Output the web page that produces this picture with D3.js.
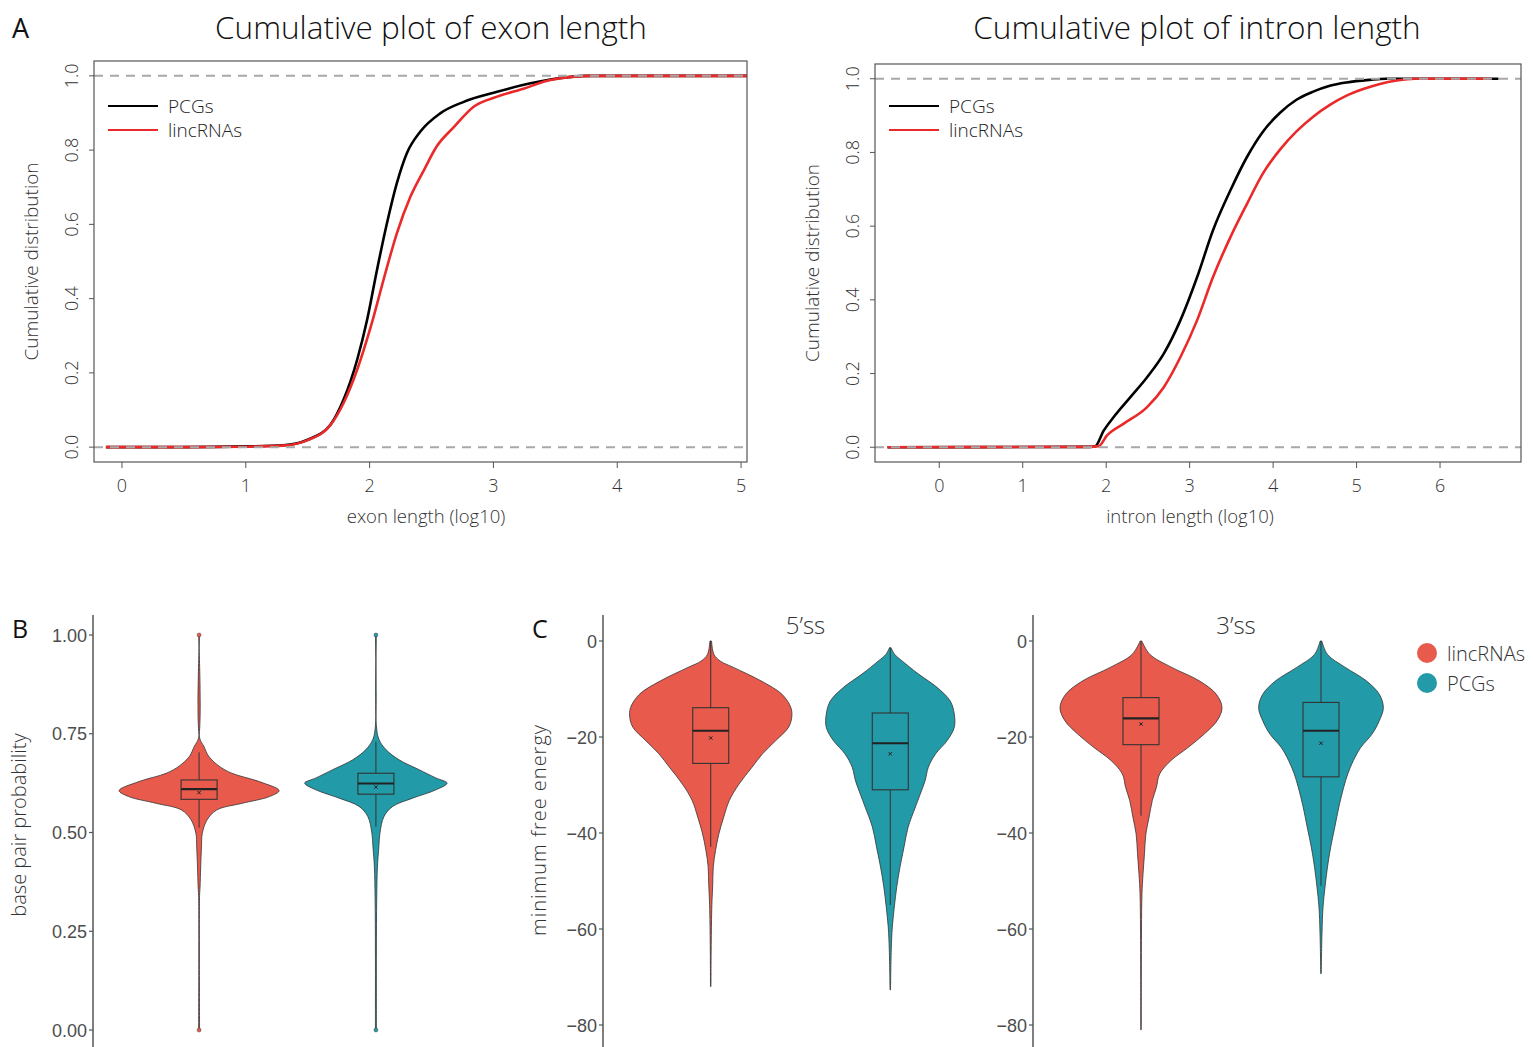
<!DOCTYPE html>
<html>
<head>
<meta charset="utf-8">
<script src="https://cdn.jsdelivr.net/npm/d3@7"></script>
<style>
  body { margin: 0; background: #fff; }
  text { font-family: "Open Sans", sans-serif; }
</style>
</head>
<body>
<svg id="fig" width="1533" height="1047"></svg>
<script>
// ---------------- Data ----------------
// cumulative distributions, [log10 length, cumulative fraction]
const exonPCGs = [[-0.13,0],[0.5,0],[1.0,0.002],[1.3,0.005],[1.5,0.02],[1.685,0.061],[1.79,0.128],
  [1.9,0.236],[1.98,0.343],[2.06,0.478],[2.14,0.603],[2.22,0.711],[2.3,0.791],[2.41,0.85],
  [2.57,0.899],[2.76,0.93],[3.03,0.957],[3.3,0.98],[3.46,0.99],[3.75,1.0],[5.05,1.0]];
const exonLincRNAs = [[-0.13,0],[0.5,0],[1.0,0.001],[1.3,0.004],[1.5,0.019],[1.68,0.058],
  [1.79,0.119],[1.9,0.209],[2.01,0.325],[2.12,0.46],[2.22,0.576],[2.33,0.675],[2.44,0.747],
  [2.54,0.809],[2.68,0.862],[2.84,0.917],[3.03,0.944],[3.25,0.966],[3.46,0.989],[3.8,1.0],[5.05,1.0]];
const intronPCGs = [[-0.62,0],[1.8,0.001],[1.87,0.003],[1.97,0.045],[2.09,0.082],[2.29,0.136],
  [2.49,0.19],[2.69,0.254],[2.89,0.345],[3.09,0.462],[3.28,0.589],[3.49,0.698],[3.69,0.789],
  [3.88,0.857],[4.08,0.907],[4.28,0.943],[4.48,0.965],[4.68,0.981],[4.88,0.99],[5.16,0.997],
  [5.35,1.0],[6.7,1.0]];
const intronLincRNAs = [[-0.62,0],[1.8,0.001],[1.91,0.003],[2.01,0.032],[2.21,0.064],[2.49,0.109],
  [2.69,0.163],[2.89,0.245],[3.09,0.345],[3.28,0.462],[3.49,0.571],[3.69,0.662],[3.88,0.744],
  [4.08,0.807],[4.28,0.857],[4.48,0.897],[4.68,0.929],[4.88,0.954],[5.08,0.972],[5.28,0.986],
  [5.48,0.995],[5.7,1.0],[6.6,1.0]];

const exonTicks   = [0, 1, 2, 3, 4, 5];
const intronTicks = [0, 1, 2, 3, 4, 5, 6];
const cdfTicks    = [0, 0.2, 0.4, 0.6, 0.8, 1.0];

const groups = ['lincRNAs', 'PCGs'];

// violin densities, [value, relative density]
const bpLinc = [[1.0,0.006],[0.74,0.006],[0.718,0.06],[0.693,0.12],[0.668,0.25],[0.65,0.41],
  [0.629,0.75],[0.606,1.0],[0.591,0.88],[0.574,0.54],[0.557,0.22],[0.532,0.1],[0.498,0.04],
  [0.464,0.03],[0.413,0.02],[0.362,0.012],[0.34,0.006],[0.0,0.006]];
const bpPCG = [[1.0,0.006],[0.77,0.006],[0.735,0.04],[0.71,0.125],[0.684,0.29],[0.659,0.54],
  [0.638,0.75],[0.625,0.89],[0.608,0.75],[0.587,0.46],[0.566,0.21],[0.54,0.1],[0.498,0.05],
  [0.464,0.037],[0.413,0.019],[0.33,0.01],[0.2,0.006],[0.05,0.006],[0.0,0.006]];

const ss5Linc = [[0,0.01],[-2.8,0.04],[-4.2,0.12],[-5.5,0.28],[-8.3,0.62],[-11.1,0.88],[-13.9,0.99],
  [-15.9,1.0],[-18,0.96],[-20.8,0.8],[-23.5,0.64],[-26.3,0.51],[-29.8,0.35],[-33.2,0.23],
  [-36.7,0.16],[-40.2,0.1],[-43.6,0.06],[-47,0.032],[-50.6,0.025],[-54,0.016],[-58,0.01],
  [-65,0.005],[-72,0.003]];
const ss5PCG = [[-1.4,0.01],[-2.8,0.055],[-4.2,0.15],[-6.9,0.35],[-9.7,0.58],[-12.5,0.74],
  [-15.2,0.79],[-18,0.79],[-20.8,0.7],[-23.5,0.56],[-26.3,0.47],[-29.1,0.43],[-31.9,0.37],
  [-34.6,0.31],[-38.8,0.22],[-42.9,0.17],[-47.1,0.12],[-51.2,0.08],[-55.4,0.05],[-59.6,0.025],
  [-64.4,0.012],[-72.7,0.003]];
const ss3Linc = [[0,0.01],[-2.8,0.11],[-5.5,0.38],[-8.3,0.72],[-11.1,0.93],[-13.9,1.0],[-16.6,0.94],
  [-19.4,0.78],[-22.2,0.58],[-24.9,0.37],[-27.7,0.23],[-30.5,0.19],[-33.2,0.14],[-36.7,0.1],
  [-40.2,0.06],[-44.3,0.043],[-48.5,0.025],[-52.6,0.012],[-60,0.006],[-70,0.004],[-81,0.003]];
const ss3PCG = [[0,0.01],[-2.8,0.08],[-5.5,0.3],[-8.3,0.56],[-11.1,0.72],[-13.9,0.77],[-16.6,0.72],
  [-19.4,0.63],[-22.2,0.49],[-24.9,0.4],[-27.7,0.33],[-30.5,0.28],[-34.6,0.22],[-38.8,0.17],
  [-42.9,0.12],[-47.1,0.08],[-51.2,0.05],[-55.4,0.025],[-61,0.012],[-69.3,0.003]];

// box stats: [whisker low, q1, median, q3, whisker high, mean]
const bpBox  = { lincRNAs: [0.512, 0.584, 0.61, 0.633, 0.703, 0.601],
                 PCGs:     [0.515, 0.597, 0.624, 0.65, 0.73, 0.615] };
const ss5Box = { lincRNAs: [-42.9, -25.5, -18.7, -13.9, 0, -20.2],
                 PCGs:     [-55, -31, -21.3, -15, -1.4, -23.5] };
const ss3Box = { lincRNAs: [-36.4, -21.6, -16.1, -11.8, 0, -17.3],
                 PCGs:     [-51, -28.3, -18.7, -12.8, 0, -21.3] };
const bpOutliers = [1.0, 0.0];

const bpTicks  = [0, 0.25, 0.5, 0.75, 1.0];
const mfeTicks = [-80, -60, -40, -20, 0];

// ---------------- Styles ----------------
const lineColor = { PCGs: '#000000', lincRNAs: '#ea2a2a' };
const fillColor = { lincRNAs: '#e85a4c', PCGs: '#229aa8' };
const axisGrey = '#4d4d4d';

const svg = d3.select('#fig');
svg.append('rect').attr('width', 1533).attr('height', 1047).attr('fill', '#fff');

// ---------------- Panel A: cumulative plots ----------------
function cdfPanel(o) {
  const x = d3.scaleLinear().domain(o.xDomain).range([o.left, o.right]);
  const y = d3.scaleLinear().domain([-0.04, 1.04]).range([462, o.top]);
  const g = svg.append('g');

  const clipId = 'clip' + o.left;
  g.append('clipPath').attr('id', clipId).append('rect')
    .attr('x', o.left).attr('y', o.top).attr('width', o.right - o.left).attr('height', 462 - o.top);

  const line = d3.line().x(d => x(d[0])).y(d => y(d[1])).curve(d3.curveMonotoneX);
  const plot = g.append('g').attr('clip-path', `url(#${clipId})`);
  o.series.forEach(s => {
    plot.append('path').attr('d', line(s.data)).attr('fill', 'none')
      .attr('stroke', lineColor[s.name]).attr('stroke-width', 2.6);
  });
  // reference lines at 0 and 1
  plot.selectAll('line.ref').data([0, 1]).join('line')
    .attr('x1', o.left).attr('x2', o.right).attr('y1', d => y(d)).attr('y2', d => y(d))
    .attr('stroke', '#a8a8a8').attr('stroke-width', 2).attr('stroke-dasharray', '9,7');

  g.append('rect').attr('x', o.left).attr('y', o.top)
    .attr('width', o.right - o.left).attr('height', 462 - o.top)
    .attr('fill', 'none').attr('stroke', '#555').attr('stroke-width', 1.2);

  // x axis
  g.selectAll('line.xt').data(o.xTicks).join('line')
    .attr('x1', d => x(d)).attr('x2', d => x(d)).attr('y1', 462).attr('y2', 468)
    .attr('stroke', '#555');
  g.selectAll('text.xt').data(o.xTicks).join('text')
    .attr('x', d => x(d)).attr('y', 492).attr('text-anchor', 'middle')
    .attr('font-size', 18).attr('font-weight', 300).attr('fill', '#333').text(d => d);

  // y axis
  g.selectAll('line.yt').data(cdfTicks).join('line')
    .attr('x1', o.left - 5).attr('x2', o.left).attr('y1', d => y(d)).attr('y2', d => y(d))
    .attr('stroke', '#555');
  g.selectAll('text.yt').data(cdfTicks).join('text')
    .attr('transform', d => `translate(${o.left - 16},${y(d)}) rotate(-90)`)
    .attr('text-anchor', 'middle').attr('font-size', 18).attr('font-weight', 300)
    .attr('fill', '#333').text(d => d.toFixed(1));

  // labels
  g.append('text').attr('x', o.titleX).attr('y', 39).attr('text-anchor', 'middle')
    .attr('font-size', 31.5).attr('font-weight', 300).attr('fill', '#111').text(o.title);
  g.append('text').attr('x', o.xLabelX).attr('y', 523).attr('text-anchor', 'middle')
    .attr('font-size', 18.5).attr('font-weight', 300).attr('fill', '#333').text(o.xLabel);
  g.append('text').attr('transform', `translate(${o.left - 56},${(o.top + 462) / 2}) rotate(-90)`)
    .attr('text-anchor', 'middle').attr('font-size', 19).attr('font-weight', 300)
    .attr('fill', '#333').text('Cumulative distribution');

  // legend
  const lg = g.append('g').attr('transform', `translate(${o.left + 14},106)`);
  o.series.forEach((s, i) => {
    lg.append('line').attr('x1', 0).attr('x2', 50).attr('y1', i * 24).attr('y2', i * 24)
      .attr('stroke', lineColor[s.name]).attr('stroke-width', 2.2);
    lg.append('text').attr('x', 60).attr('y', i * 24 + 7).attr('font-size', 19)
      .attr('font-weight', 300).attr('fill', '#222').text(s.name);
  });
}

cdfPanel({ left: 94, right: 747, top: 61, xDomain: [-0.226, 5.048], xTicks: exonTicks,
  title: 'Cumulative plot of exon length', titleX: 431, xLabel: 'exon length (log10)', xLabelX: 426,
  series: [{ name: 'PCGs', data: exonPCGs }, { name: 'lincRNAs', data: exonLincRNAs }] });
cdfPanel({ left: 875, right: 1521, top: 64, xDomain: [-0.77, 6.97], xTicks: intronTicks,
  title: 'Cumulative plot of intron length', titleX: 1197, xLabel: 'intron length (log10)', xLabelX: 1190,
  series: [{ name: 'PCGs', data: intronPCGs }, { name: 'lincRNAs', data: intronLincRNAs }] });

svg.append('text').attr('x', 12).attr('y', 38).attr('font-size', 27).attr('fill', '#111').text('A');

// ---------------- Panels B & C: violins ----------------
function violins(g, x, y, wScale, dens, box, outliers) {
  const boxW = 36;
  groups.forEach(name => {
    const cx = x(name);
    const area = d3.area()
      .y(d => y(d[0]))
      .x0(d => cx - wScale(d[1])).x1(d => cx + wScale(d[1]))
      .curve(d3.curveCatmullRom.alpha(0.5));
    g.append('path').attr('d', area(dens[name])).attr('fill', fillColor[name])
      .attr('stroke', '#333').attr('stroke-width', 0.8);

    const [wlo, q1, med, q3, whi, mean] = box[name];
    g.append('line').attr('x1', cx).attr('x2', cx).attr('y1', y(whi)).attr('y2', y(q3))
      .attr('stroke', '#333').attr('stroke-width', 1);
    g.append('line').attr('x1', cx).attr('x2', cx).attr('y1', y(q1)).attr('y2', y(wlo))
      .attr('stroke', '#333').attr('stroke-width', 1);
    g.append('rect').attr('x', cx - boxW / 2).attr('y', y(q3)).attr('width', boxW)
      .attr('height', y(q1) - y(q3)).attr('fill', 'none').attr('stroke', '#333').attr('stroke-width', 1.1);
    g.append('line').attr('x1', cx - boxW / 2).attr('x2', cx + boxW / 2)
      .attr('y1', y(med)).attr('y2', y(med)).attr('stroke', '#222').attr('stroke-width', 2.2);
    g.append('path').attr('d', d3.symbol(d3.symbolX, 9)())
      .attr('transform', `translate(${cx},${y(mean)})`).attr('stroke', '#222').attr('stroke-width', 1);
    if (outliers) {
      g.selectAll(null).data(outliers).join('circle')
        .attr('cx', cx).attr('cy', d => y(d)).attr('r', 2)
        .attr('fill', fillColor[name]).attr('stroke', '#444').attr('stroke-width', 0.5);
    }
  });
}

function yAxis(g, axisX, y, ticks, fmt) {
  g.append('line').attr('x1', axisX).attr('x2', axisX).attr('y1', 615).attr('y2', 1047)
    .attr('stroke', '#555').attr('stroke-width', 1.5);
  g.selectAll(null).data(ticks).join('line')
    .attr('x1', axisX - 4).attr('x2', axisX).attr('y1', d => y(d)).attr('y2', d => y(d))
    .attr('stroke', '#555').attr('stroke-width', 1.2);
  g.selectAll(null).data(ticks).join('text')
    .attr('x', axisX - 6).attr('y', d => y(d) + 6.5).attr('text-anchor', 'end')
    .style('font-family', '"Liberation Sans", Arial, sans-serif')
    .attr('font-size', 18).attr('fill', axisGrey).text(fmt);
}

// Panel B
const gB = svg.append('g');
const xB = d3.scalePoint().domain(groups).range([93, 482]).padding(0.6);
const yB = d3.scaleLinear().domain([0, 1]).range([1030, 635]);
const wB = d3.scaleLinear().domain([0, 1]).range([0, 80]);
violins(gB, xB, yB, wB, { lincRNAs: bpLinc, PCGs: bpPCG }, bpBox, bpOutliers);
yAxis(gB, 93, yB, bpTicks, d => d.toFixed(2));
gB.append('text').attr('transform', `translate(26,825) rotate(-90)`).attr('text-anchor', 'middle')
  .attr('font-size', 20).attr('font-weight', 300).attr('fill', '#333').text('base pair probability');
svg.append('text').attr('x', 12).attr('y', 638).attr('font-size', 25).attr('fill', '#111').text('B');

// Panel C
const yC = d3.scaleLinear().domain([-80, 0]).range([1025, 641]);
const wC = d3.scaleLinear().domain([0, 1]).range([0, 81]);
const minus = d => d < 0 ? '\u2212' + Math.abs(d) : String(d);
const facets = [
  { title: '5\u2019ss', range: [603, 998], dens: { lincRNAs: ss5Linc, PCGs: ss5PCG }, box: ss5Box },
  { title: '3\u2019ss', range: [1033, 1429], dens: { lincRNAs: ss3Linc, PCGs: ss3PCG }, box: ss3Box }
];
facets.forEach(f => {
  const g = svg.append('g');
  const x = d3.scalePoint().domain(groups).range(f.range).padding(0.6);
  violins(g, x, yC, wC, f.dens, f.box, null);
  yAxis(g, f.range[0], yC, mfeTicks, minus);
  g.append('text').attr('x', (f.range[0] + f.range[1]) / 2 + 5).attr('y', 634)
    .attr('text-anchor', 'middle').attr('font-size', 24).attr('font-weight', 300)
    .attr('fill', '#333').text(f.title);
});
svg.append('text').attr('transform', `translate(546,830) rotate(-90)`).attr('text-anchor', 'middle')
  .attr('font-size', 20).attr('font-weight', 300).attr('letter-spacing', 1)
  .attr('fill', '#333').text('minimum free energy');
svg.append('text').attr('x', 532).attr('y', 638).attr('font-size', 25).attr('fill', '#111').text('C');

// legend
const lgC = svg.append('g').attr('transform', 'translate(1427,653)');
groups.forEach((name, i) => {
  lgC.append('circle').attr('cx', 0).attr('cy', i * 30).attr('r', 10).attr('fill', fillColor[name]);
  lgC.append('text').attr('x', 20).attr('y', i * 30 + 8).attr('font-size', 20)
    .attr('font-weight', 300).attr('fill', '#333').text(name);
});
</script>
</body>
</html>
